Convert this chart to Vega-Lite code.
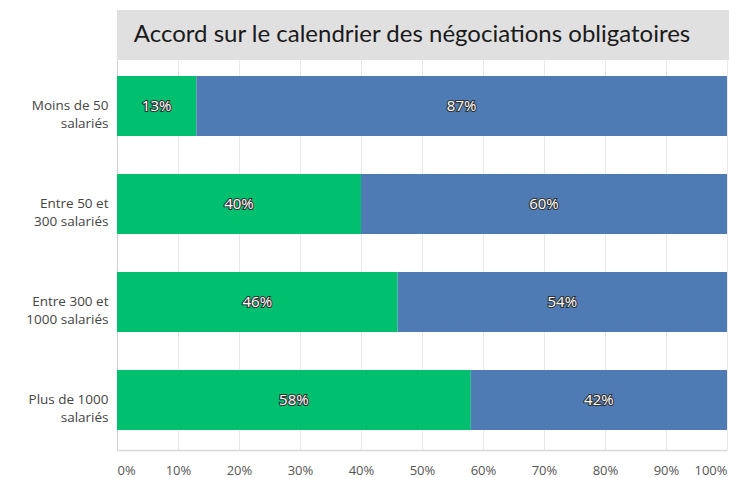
{
  "$schema": "https://vega.github.io/schema/vega-lite/v6.json",
  "padding": {"left": 25, "top": 10, "right": 0, "bottom": 0},
  "background": "white",
  "bounds": "flush",
  "spacing": 0,
  "config": {"view": {"stroke": null}, "font": "Open Sans"},
  "vconcat": [
    {
      "width": 612,
      "height": 50,
      "data": {"values": [{"title": "Accord sur le calendrier des négociations obligatoires"}]},
      "layer": [
        {"mark": {"type": "rect", "color": "#e0e0e0"}, "encoding": {}},
        {
          "mark": {"type": "text", "font": "Lato", "fontSize": 24, "color": "#1a1a1a", "align": "center", "baseline": "middle", "dx": -11},
          "encoding": {"text": {"field": "title"}}
        }
      ]
    },
    {
      "width": 610,
      "height": 390,
      "data": {
        "values": [
          {"cat": "Moins de 50|salariés", "ans": "Oui", "ord": 1, "v": 0.13},
          {"cat": "Moins de 50|salariés", "ans": "Non", "ord": 2, "v": 0.87},
          {"cat": "Entre 50 et|300 salariés", "ans": "Oui", "ord": 1, "v": 0.40},
          {"cat": "Entre 50 et|300 salariés", "ans": "Non", "ord": 2, "v": 0.60},
          {"cat": "Entre 300 et|1000 salariés", "ans": "Oui", "ord": 1, "v": 0.46},
          {"cat": "Entre 300 et|1000 salariés", "ans": "Non", "ord": 2, "v": 0.54},
          {"cat": "Plus de 1000|salariés", "ans": "Oui", "ord": 1, "v": 0.58},
          {"cat": "Plus de 1000|salariés", "ans": "Non", "ord": 2, "v": 0.42}
        ]
      },
      "transform": [
        {"stack": "v", "groupby": ["cat"], "sort": [{"field": "ord"}], "as": ["x0", "x1"]},
        {"calculate": "(datum.x0 + datum.x1) / 2", "as": "mid"}
      ],
      "encoding": {
        "y": {
          "field": "cat",
          "type": "nominal",
          "sort": null,
          "scale": {"paddingInner": 0.388, "paddingOuter": 0.184, "align": 0.444},
          "axis": {
            "title": null,
            "ticks": false,
            "grid": false,
            "domainColor": "#d0d0d0",
            "labelPadding": 9,
            "labelFontSize": 13.5,
            "labelColor": "#444",
            "labelLineHeight": 18,
            "labelExpr": "split(datum.label, '|')"
          }
        }
      },
      "layer": [
        {
          "mark": {"type": "bar"},
          "encoding": {
            "x": {
              "field": "x0",
              "type": "quantitative",
              "scale": {"domain": [0, 1], "nice": false},
              "axis": {
                "title": null,
                "values": [0, 0.1, 0.2, 0.3, 0.4, 0.5, 0.6, 0.7, 0.8, 0.9, 1],
                "format": ".0%",
                "labelFlush": true,
                "grid": true,
                "gridColor": "#e8e8e8",
                "domainColor": "#d9d9d9",
                "domainWidth": 1.5,
                "ticks": false,
                "labelPadding": 14,
                "labelFontSize": 13,
                "labelColor": "#555"
              }
            },
            "x2": {"field": "x1"},
            "color": {
              "field": "ans",
              "type": "nominal",
              "scale": {"domain": ["Oui", "Non"], "range": ["#00BF6F", "#4F7BB5"]},
              "legend": null
            }
          }
        },
        {
          "mark": {"type": "text", "fill": "#333", "stroke": "#333", "strokeWidth": 2.2, "fontSize": 15, "baseline": "middle", "align": "center"},
          "encoding": {
            "x": {"field": "mid", "type": "quantitative"},
            "text": {"field": "v", "type": "quantitative", "format": ".0%"}
          }
        },
        {
          "mark": {"type": "text", "fill": "white", "fontSize": 15, "baseline": "middle", "align": "center"},
          "encoding": {
            "x": {"field": "mid", "type": "quantitative"},
            "text": {"field": "v", "type": "quantitative", "format": ".0%"}
          }
        }
      ]
    }
  ]
}
